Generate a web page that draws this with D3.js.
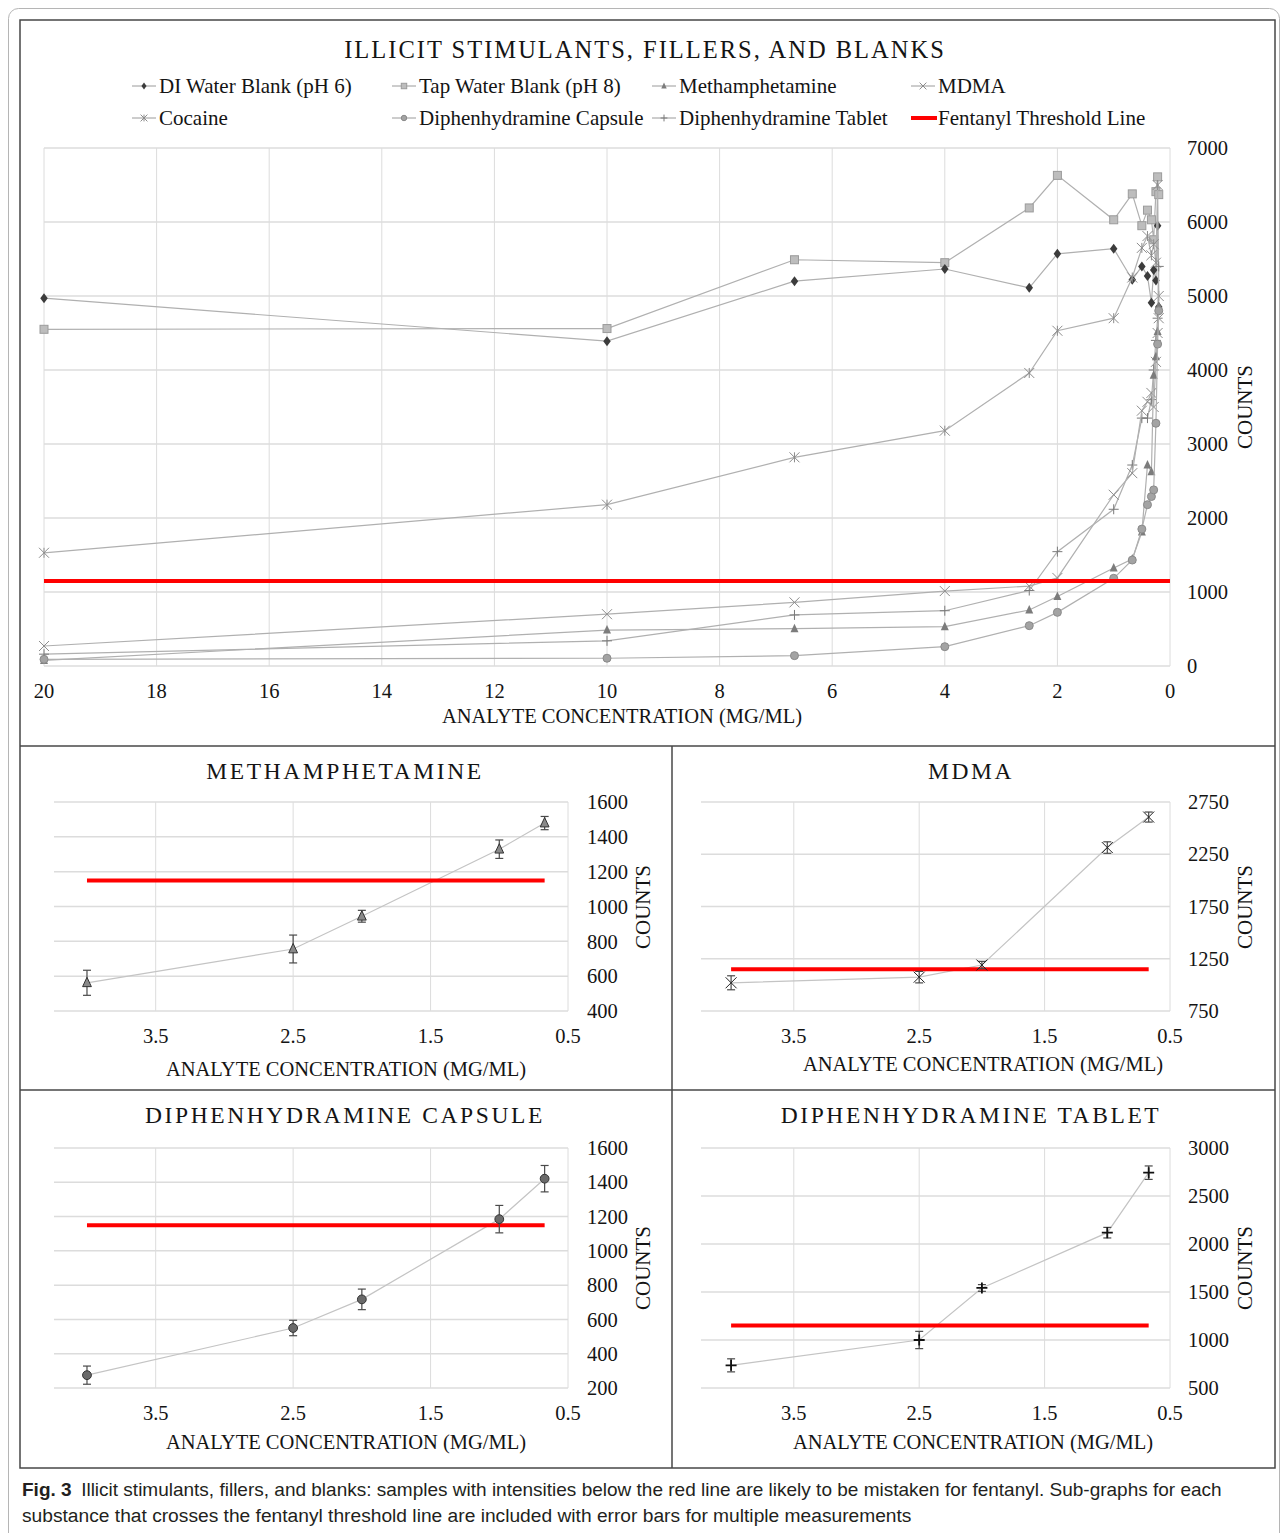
<!DOCTYPE html>
<html>
  <head>
    <meta charset="utf-8" />
    <title>Illicit stimulants, fillers, and blanks</title>
    <script src="https://d3js.org/d3.v7.min.js"></script>
    <style>
      body {
        margin: 0;
        background: #fff;
      }
      svg text {
        font-family: "Liberation Serif", "Times New Roman", serif;
        fill: #141414;
      }
      svg text.caption {
        font-family: "Liberation Sans", Arial, sans-serif;
        fill: #231f20;
      }
    </style>
  </head>

  <body>
    <svg width="1287" height="1533" id="fig"></svg>

    <script>
      // ---- main chart data ----
      const conc = [20, 10, 6.67, 4, 2.5, 2, 1, 0.67, 0.5, 0.4, 0.33, 0.29, 0.25, 0.22, 0.2];
      const diWater = [4970, 4390, 5200, 5365, 5110, 5570, 5640, 5220, 5400, 5270, 4910, 5350, 5210, 5950, 4850];
      const tapWater = [4550, 4560, 5490, 5450, 6190, 6630, 6030, 6380, 5950, 6160, 6030, 5760, 6410, 6610, 6370];
      const meth = [75, 486, 504, 531, 757, 940, 1325, 1445, 1810, 2716, 2626, 3930, 4180, 4520, 4860];
      const mdma = [270, 700, 860, 1013, 1080, 1190, 2314, 2606, 3450, 3570, 3690, 3500, 4110, 4500, 4700];
      const cocaine = [1530, 2180, 2820, 3180, 3960, 4530, 4700, 5250, 5650, 5810, 5550, 5700, 5450, 6500, 5000];
      const dphCapsule = [90, 105, 140, 261, 545, 725, 1185, 1432, 1850, 2180, 2290, 2380, 3280, 4350, 4800];
      const dphTablet = [160, 340, 690, 747, 1020, 1545, 2118, 2716, 3350, 3350, 3600, 4000, 4400, 4700, 5400];
      const threshold = 1150;

      const legendNames = [
        "DI Water Blank (pH 6)", "Tap Water Blank (pH 8)", "Methamphetamine", "MDMA",
        "Cocaine", "Diphenhydramine Capsule", "Diphenhydramine Tablet", "Fentanyl Threshold Line"
      ];
      const mainXTicks = [20, 18, 16, 14, 12, 10, 8, 6, 4, 2, 0];
      const mainYTicks = [0, 1000, 2000, 3000, 4000, 5000, 6000, 7000];

      // ---- sub-graph data, mean and error bar half-width ----
      const subConc = [4, 2.5, 2, 1, 0.67];
      const subXTicks = [3.5, 2.5, 1.5, 0.5];
      const methMean = [562, 756, 944, 1329, 1479];
      const methErr = [72, 80, 34, 53, 38];
      const mdmaMean = [1020, 1074, 1190, 2314, 2606];
      const mdmaErr = [67, 55, 35, 55, 48];
      const capMean = [275, 550, 717, 1185, 1421];
      const capErr = [53, 45, 60, 80, 77];
      const tabMean = [736, 1000, 1542, 2118, 2743];
      const tabErr = [68, 90, 35, 55, 70];
      const methYTicks = [400, 600, 800, 1000, 1200, 1400, 1600];
      const mdmaYTicks = [750, 1250, 1750, 2250, 2750];
      const capYTicks = [200, 400, 600, 800, 1000, 1200, 1400, 1600];
      const tabYTicks = [500, 1000, 1500, 2000, 2500, 3000];

      const svg = d3.select("#fig");
      const gridColor = "#dcdcdc";
      const red = "#ff0000";
      const tickSize = 20.5;
      const axisTitleSize = 20.5;

      // draws one marker shape centred on 0,0
      function marker(g, type, s, dark) {
        let el;
        if (type == "diamond") {
          el = g.append("path")
            .attr("d", `M0,${-s}L${s * 0.75},0L0,${s}L${-s * 0.75},0Z`)
            .attr("fill", "#3c3c3c");
        } else if (type == "square") {
          el = g.append("rect")
            .attr("x", -s * 0.8).attr("y", -s * 0.8)
            .attr("width", s * 1.6).attr("height", s * 1.6)
            .attr("fill", "#bdbdbd").attr("stroke", "#9b9b9b");
        } else if (type == "triangle") {
          el = g.append("path")
            .attr("d", `M0,${-s}L${s * 0.8},${s * 0.7}L${-s * 0.8},${s * 0.7}Z`)
            .attr("fill", dark ? "#8a8a8a" : "#7c7c7c")
            .attr("stroke", dark ? "#333" : "none");
        } else if (type == "circle") {
          el = g.append("circle")
            .attr("r", s * 0.8)
            .attr("fill", dark ? "#6a6a6a" : "#a3a3a3")
            .attr("stroke", dark ? "#333" : "#8a8a8a");
        } else if (type == "x") {
          el = g.append("path")
            .attr("d", `M${-s},${-s}L${s},${s}M${-s},${s}L${s},${-s}`)
            .attr("fill", "none").attr("stroke", dark ? "#222" : "#8c8c8c");
        } else if (type == "star") {
          el = g.append("path")
            .attr("d", `M${-s},${-s}L${s},${s}M${-s},${s}L${s},${-s}M0,${-s}L0,${s}`)
            .attr("fill", "none").attr("stroke", "#8c8c8c");
        } else if (type == "plus") {
          el = g.append("path")
            .attr("d", `M${-s},0L${s},0M0,${-s}L0,${s}`)
            .attr("fill", "none").attr("stroke", dark ? "#111" : "#7a7a7a")
            .attr("stroke-width", dark ? 1.8 : 1);
        }
        return el;
      }

      // ---- frames ----
      svg.append("rect")
        .attr("x", 8.5).attr("y", 8.5).attr("width", 1271).attr("height", 1560)
        .attr("rx", 10).attr("fill", "none").attr("stroke", "#b5b5b5");

      const frame = svg.append("g")
        .attr("stroke", "#474747").attr("stroke-width", 1.5).attr("fill", "none");
      frame.append("rect").attr("x", 20).attr("y", 20).attr("width", 1255).attr("height", 1448);
      frame.append("line").attr("x1", 20).attr("x2", 1275).attr("y1", 746).attr("y2", 746);
      frame.append("line").attr("x1", 20).attr("x2", 1275).attr("y1", 1090).attr("y2", 1090);
      frame.append("line").attr("x1", 672).attr("x2", 672).attr("y1", 746).attr("y2", 1468);

      // ---- main chart ----
      const x = d3.scaleLinear().domain([20, 0]).range([44, 1170]);
      const y = d3.scaleLinear().domain([0, 7000]).range([666, 148]);
      const main = svg.append("g");

      main.selectAll(".vgrid").data(mainXTicks).enter().append("line")
        .attr("x1", d => x(d)).attr("x2", d => x(d))
        .attr("y1", y(0)).attr("y2", y(7000))
        .attr("stroke", gridColor);
      main.selectAll(".hgrid").data(mainYTicks).enter().append("line")
        .attr("x1", x(20)).attr("x2", x(0))
        .attr("y1", d => y(d)).attr("y2", d => y(d))
        .attr("stroke", gridColor).attr("stroke-width", 1.5);

      main.selectAll(".xt").data(mainXTicks).enter().append("text")
        .attr("x", d => x(d)).attr("y", 691).attr("dy", "0.35em")
        .attr("text-anchor", "middle").attr("font-size", tickSize)
        .text(d => d);
      main.selectAll(".yt").data(mainYTicks).enter().append("text")
        .attr("x", 1187).attr("y", d => y(d)).attr("dy", "0.35em")
        .attr("font-size", tickSize)
        .text(d => d);
      main.append("text")
        .attr("transform", "translate(1245,407) rotate(-90)").attr("dy", "0.35em")
        .attr("text-anchor", "middle").attr("font-size", 21)
        .text("COUNTS");
      main.append("text")
        .attr("x", 622).attr("y", 716).attr("dy", "0.35em")
        .attr("text-anchor", "middle").attr("font-size", axisTitleSize)
        .text("ANALYTE CONCENTRATION (MG/ML)");
      main.append("text")
        .attr("x", 645).attr("y", 49).attr("dy", "0.35em")
        .attr("text-anchor", "middle").attr("font-size", 24.5).attr("letter-spacing", 2)
        .text("ILLICIT STIMULANTS, FILLERS, AND BLANKS");

      const series = [
        { values: tapWater, marker: "square" },
        { values: diWater, marker: "diamond" },
        { values: cocaine, marker: "star" },
        { values: dphTablet, marker: "plus" },
        { values: mdma, marker: "x" },
        { values: meth, marker: "triangle" },
        { values: dphCapsule, marker: "circle" }
      ];

      const line = d3.line().x(d => x(d[0])).y(d => y(d[1]));

      series.forEach(function(s) {
        const pts = conc.map((c, i) => [c, s.values[i]]);
        main.append("path")
          .attr("d", line(pts))
          .attr("fill", "none").attr("stroke", "#b0b0b0").attr("stroke-width", 1.2);
        pts.forEach(function(p) {
          const g = main.append("g").attr("transform", `translate(${x(p[0])},${y(p[1])})`);
          marker(g, s.marker, 5, false);
        });
      });

      main.append("line")
        .attr("x1", x(20)).attr("x2", x(0))
        .attr("y1", y(threshold)).attr("y2", y(threshold))
        .attr("stroke", red).attr("stroke-width", 4);

      // legend, two rows of four
      const legendMarkers = ["diamond", "square", "triangle", "x", "star", "circle", "plus", "red"];
      const legendX = [132, 392, 652, 911];
      const legendY = [86, 118];
      legendNames.forEach(function(name, i) {
        const lx = legendX[i % 4], ly = legendY[Math.floor(i / 4)];
        const g = main.append("g").attr("transform", `translate(${lx},${ly})`);
        if (legendMarkers[i] == "red") {
          g.append("line").attr("x1", 0).attr("x2", 26).attr("stroke", red).attr("stroke-width", 4);
        } else {
          g.append("line").attr("x1", 0).attr("x2", 24).attr("stroke", "#9a9a9a");
          const m = g.append("g").attr("transform", "translate(12,0)");
          marker(m, legendMarkers[i], 3.4, false);
        }
        g.append("text").attr("x", 27).attr("dy", "0.35em").attr("font-size", 21).text(name);
      });

      // ---- sub-graphs with error bars ----
      function subGraph(p) {
        const g = svg.append("g");
        const sx = d3.scaleLinear().domain([4.24, 0.5]).range(p.xRange);
        const sy = d3.scaleLinear().domain(d3.extent(p.yTicks)).range(p.yRange);

        g.selectAll(".vg").data(subXTicks).enter().append("line")
          .attr("x1", d => sx(d)).attr("x2", d => sx(d))
          .attr("y1", p.yRange[0]).attr("y2", p.yRange[1])
          .attr("stroke", gridColor);
        g.selectAll(".hg").data(p.yTicks).enter().append("line")
          .attr("x1", p.xRange[0]).attr("x2", p.xRange[1])
          .attr("y1", d => sy(d)).attr("y2", d => sy(d))
          .attr("stroke", gridColor).attr("stroke-width", 1.5);

        g.selectAll(".xt").data(subXTicks).enter().append("text")
          .attr("x", d => sx(d)).attr("y", p.xTickY).attr("dy", "0.35em")
          .attr("text-anchor", "middle").attr("font-size", tickSize)
          .text(d => d);
        g.selectAll(".yt").data(p.yTicks).enter().append("text")
          .attr("x", p.yLabelX).attr("y", d => sy(d)).attr("dy", "0.35em")
          .attr("font-size", tickSize)
          .text(d => d);
        g.append("text")
          .attr("transform", `translate(${p.counts[0]},${p.counts[1]}) rotate(-90)`).attr("dy", "0.35em")
          .attr("text-anchor", "middle").attr("font-size", 21)
          .text("COUNTS");
        g.append("text")
          .attr("x", p.xTitle[0]).attr("y", p.xTitle[1]).attr("dy", "0.35em")
          .attr("text-anchor", "middle").attr("font-size", axisTitleSize)
          .text("ANALYTE CONCENTRATION (MG/ML)");
        g.append("text")
          .attr("x", p.title[0]).attr("y", p.title[1]).attr("dy", "0.35em")
          .attr("text-anchor", "middle").attr("font-size", 23.5).attr("letter-spacing", 2.6)
          .text(p.name);

        const pts = subConc.map((c, i) => [c, p.mean[i], p.err[i]]);
        g.append("path")
          .attr("d", d3.line().x(d => sx(d[0])).y(d => sy(d[1]))(pts))
          .attr("fill", "none").attr("stroke", "#c4c4c4").attr("stroke-width", 1.2);

        g.append("line")
          .attr("x1", sx(subConc[0])).attr("x2", sx(subConc[subConc.length - 1]))
          .attr("y1", sy(threshold)).attr("y2", sy(threshold))
          .attr("stroke", red).attr("stroke-width", 4);

        pts.forEach(function(d) {
          const px = sx(d[0]);
          const eb = g.append("g").attr("stroke", "#4a4a4a").attr("stroke-width", 1.2);
          eb.append("line").attr("x1", px).attr("x2", px).attr("y1", sy(d[1] - d[2])).attr("y2", sy(d[1] + d[2]));
          eb.append("line").attr("x1", px - 4).attr("x2", px + 4).attr("y1", sy(d[1] - d[2])).attr("y2", sy(d[1] - d[2]));
          eb.append("line").attr("x1", px - 4).attr("x2", px + 4).attr("y1", sy(d[1] + d[2])).attr("y2", sy(d[1] + d[2]));
          const m = g.append("g").attr("transform", `translate(${px},${sy(d[1])})`);
          marker(m, p.marker, 5.5, true);
        });
      }

      subGraph({
        name: "METHAMPHETAMINE", mean: methMean, err: methErr, marker: "triangle", yTicks: methYTicks,
        xRange: [54, 568], yRange: [1011, 802], title: [345, 771], yLabelX: 587,
        counts: [643, 907], xTickY: 1036, xTitle: [346, 1069]
      });
      subGraph({
        name: "MDMA", mean: mdmaMean, err: mdmaErr, marker: "x", yTicks: mdmaYTicks,
        xRange: [701, 1170], yRange: [1011, 802], title: [971, 771], yLabelX: 1188,
        counts: [1245, 907], xTickY: 1036, xTitle: [983, 1064]
      });
      subGraph({
        name: "DIPHENHYDRAMINE CAPSULE", mean: capMean, err: capErr, marker: "circle", yTicks: capYTicks,
        xRange: [54, 568], yRange: [1388, 1148], title: [345, 1115], yLabelX: 587,
        counts: [643, 1268], xTickY: 1413, xTitle: [346, 1442]
      });
      subGraph({
        name: "DIPHENHYDRAMINE TABLET", mean: tabMean, err: tabErr, marker: "plus", yTicks: tabYTicks,
        xRange: [701, 1170], yRange: [1388, 1148], title: [971, 1115], yLabelX: 1188,
        counts: [1245, 1268], xTickY: 1413, xTitle: [973, 1442]
      });

      // ---- caption ----
      const cap1 = svg.append("text").attr("class", "caption")
        .attr("x", 22).attr("y", 1496).attr("font-size", 19);
      cap1.append("tspan").attr("font-weight", "bold").text("Fig. 3");
      cap1.append("tspan")
        .text("\u2002Illicit stimulants, fillers, and blanks: samples with intensities below the red line are likely to be mistaken for fentanyl. Sub-graphs for each");
      svg.append("text").attr("class", "caption")
        .attr("x", 22).attr("y", 1522).attr("font-size", 19.2)
        .text("substance that crosses the fentanyl threshold line are included with error bars for multiple measurements");
    </script>
  </body>
</html>
